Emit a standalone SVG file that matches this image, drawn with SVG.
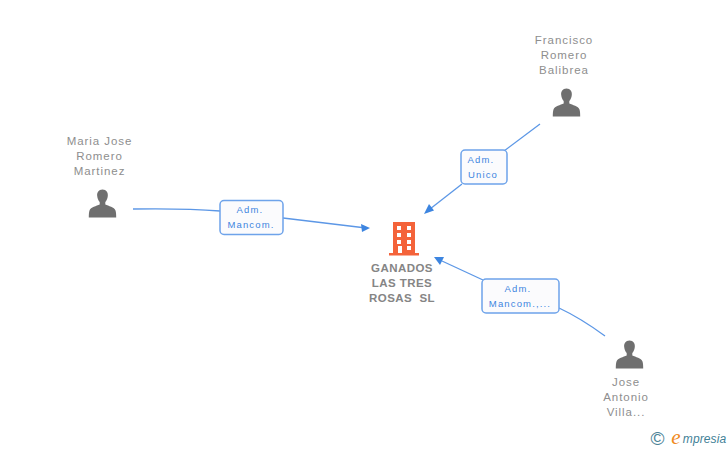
<svg xmlns="http://www.w3.org/2000/svg" width="728" height="450" viewBox="0 0 728 450">
<style>
text{font-family:"Liberation Sans",Arial,sans-serif;text-anchor:middle}
.n{font-size:11.500px;fill:#8e8e8e;letter-spacing:.95px}
.c{font-size:11.500px;font-weight:bold;fill:#858585;letter-spacing:.45px}
.l{font-size:9.500px;fill:#3d85e0;letter-spacing:1.150px}
.b{fill:#fbfbfd;stroke:#6ea3ea;stroke-width:1.500}
.e{fill:none;stroke:#5c97e6;stroke-width:1.300}
.p{fill:#6f6f6f}
.a{fill:#3d85e0}
</style>
<defs>
<g id="person"><path class="p" d="M0-14.500C-3.900-14.500-5.700-11.500-5.300-8C-5-5.300-4-3.200-2.800-2L-2.800 0.500C-6 2-11.800 3-13 6.500C-13.600 8.500-13.700 11-13.700 13.500L13.700 13.500C13.700 11 13.600 8.500 13 6.500C11.800 3 6 2 2.800 0.500L2.800-2C4-3.200 5-5.300 5.300-8C5.700-11.500 3.900-14.500 0-14.500Z"/></g>
</defs>
<g id="connectors">
<path class="e" d="M133 209C165 208.500 195 209 220 211"/>
<path class="e" d="M283 218L362 227.500"/>
<polygon class="a" points="370,228 361,224 362,232"/>
<path class="e" d="M540 124L504 151"/>
<path class="e" d="M462 184L430 209"/>
<polygon class="a" points="424,214 434,210.500 429,204"/>
<path class="e" d="M605 336C590 325 574 315 559 308"/>
<path class="e" d="M483 280L442 261"/>
<polygon class="a" points="434,257 440,265 444,257"/>
</g>
<g id="node-company">
<path fill="#f4633a" fill-rule="evenodd" d="M393 222H415V253H419V255.500H389V253H393ZM397 226V230H401V226ZM407 226V230H411V226ZM397 233V237H401V233ZM407 233V237H411V233ZM397 240V244H401V240ZM407 240V244H411V240ZM398 246V253H402V246ZM407 246V250H411V246Z"/>
<text class="c" x="402" y="272">GANADOS</text>
<text class="c" x="402" y="287">LAS TRES</text>
<text class="c" x="402" y="302" xml:space="preserve">ROSAS  SL</text>
</g>
<g id="node-maria">
<use href="#person" x="102.500" y="204"/>
<text class="n" x="99.500" y="145">Maria Jose</text>
<text class="n" x="99.500" y="160">Romero</text>
<text class="n" x="99.500" y="175">Martinez</text>
</g>
<g id="node-francisco">
<use href="#person" x="566.500" y="103"/>
<text class="n" x="564" y="44">Francisco</text>
<text class="n" x="564" y="59">Romero</text>
<text class="n" x="564" y="74">Balibrea</text>
</g>
<g id="node-jose">
<use href="#person" x="629.500" y="355"/>
<text class="n" x="626" y="386">Jose</text>
<text class="n" x="626" y="401">Antonio</text>
<text class="n" x="626" y="416">Villa...</text>
</g>
<g id="label-maria">
<rect class="b" x="220" y="200.500" width="63" height="34" rx="4"/>
<text class="l" x="250" y="213">Adm.</text>
<text class="l" x="251" y="228">Mancom.</text>
</g>
<g id="label-francisco">
<rect class="b" x="461" y="150" width="46" height="34" rx="4"/>
<text class="l" x="481" y="163">Adm.</text>
<text class="l" x="483" y="178">Unico</text>
</g>
<g id="label-jose">
<rect class="b" x="482" y="279" width="77" height="34" rx="4"/>
<text class="l" x="518" y="292">Adm.</text>
<text class="l" x="520" y="307">Mancom.,...</text>
</g>
<g id="brand">
<text x="657.500" y="445" style="font-size:19px;fill:#4b8296">©</text>
<text x="676" y="444" style="font-family:'Liberation Serif',serif;font-style:italic;font-size:21px;fill:#f08a1d">e</text>
<text x="704.500" y="443" style="font-size:12px;font-style:italic;fill:#3f8197;letter-spacing:.1px">mpresia</text>
</g>
</svg>
